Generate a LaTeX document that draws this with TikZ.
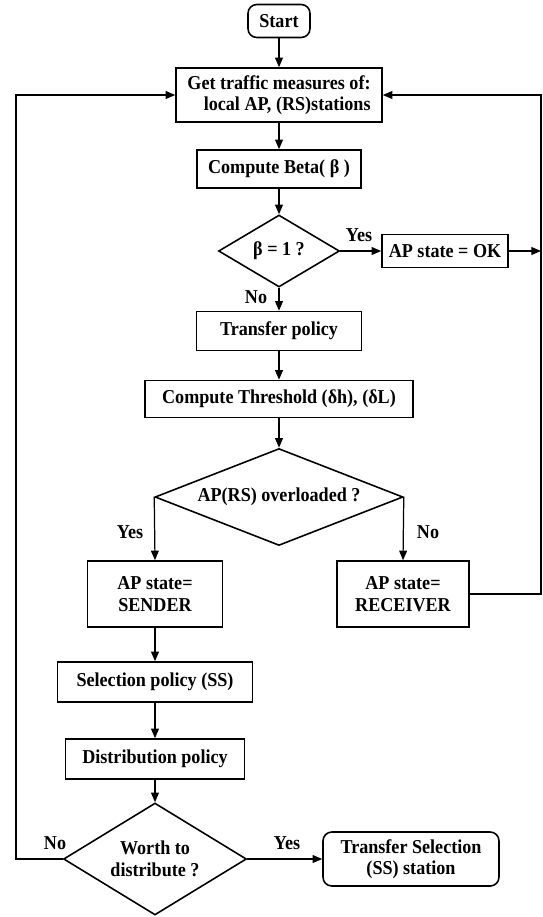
\documentclass[tikz,border=0pt]{standalone}
\usepackage{fontspec}
\setmainfont{Liberation Serif}[FakeStretch=0.92]
\usetikzlibrary{shapes.geometric, arrows.meta}

\tikzset{
  box/.style={rectangle, draw, line width=0.9pt, inner sep=0pt, align=center},
  rbox/.style={box, rounded corners=5pt},
  decision/.style={diamond, draw, line width=0.9pt, inner sep=0pt, align=center},
  flow/.style={-{Triangle[length=5.5pt,width=4.5pt]}, line width=0.7pt},
  lbl/.style={inner sep=0pt}
}

\begin{document}
\begin{tikzpicture}[x=0.02cm, y=-0.02cm, font=\bfseries\fontsize{11.2}{12.2}\selectfont]
  \useasboundingbox (0,0) rectangle (542,917);
  % main column
  \node (start) [rbox, minimum width=1.24cm, minimum height=0.66cm] at (279,21) {Start};
  \node (getm) [box, align=right, minimum width=4.12cm, minimum height=1.08cm] at (279,95) {Get traffic measures of:\\local AP, (RS)stations};
  \node (beta) [box, minimum width=3.28cm, minimum height=0.76cm] at (279,169) {Compute Beta( β )};
  \node (dbeta) [decision, aspect=1.7, minimum width=2.42cm, minimum height=1.44cm] at (279,251) {β = 1 ?};
  \node (ok) [box, minimum width=2.52cm, minimum height=0.66cm] at (445,251) {AP state = OK};
  \node (transfer) [box, minimum width=3.30cm, minimum height=0.78cm] at (279,331) {Transfer policy};
  \node (thresh) [box, minimum width=5.36cm, minimum height=0.74cm] at (279,399) {Compute Threshold (δh), (δL)};
  \node (dover) [decision, aspect=2.56, minimum width=4.96cm, minimum height=1.94cm] at (279,497) {AP(RS) overloaded ?};
  \node (sender) [box, minimum width=2.70cm, minimum height=1.32cm] at (155,594) {AP state=\\SENDER};
  \node (receiver) [box, minimum width=2.64cm, minimum height=1.32cm] at (403,594) {AP state=\\RECEIVER};
  \node (select) [box, minimum width=3.90cm, minimum height=0.80cm] at (155,682) {Selection policy (SS)};
  \node (distrib) [box, minimum width=3.58cm, minimum height=0.80cm] at (155,759) {Distribution policy};
  \node (dworth) [decision, aspect=1.63, minimum width=3.66cm, minimum height=2.24cm] at (155,859) {Worth to\\distribute ?};
  \node (trsel) [rbox, minimum width=3.52cm, minimum height=1.08cm] at (411,859) {Transfer Selection\\(SS) station};

  % loop corners and free ends
  \coordinate (okend) at (541,251);
  \coordinate (rloop) at (541,95);
  \coordinate (lloop) at (16,95);

  % branch labels
  \node (yes1) [lbl] at (359,235) {Yes};
  \node (no1) [lbl] at (256,297) {No};
  \node (yes2) [lbl] at (130,532) {Yes};
  \node (no2) [lbl] at (428,532) {No};
  \node (no3) [lbl] at (55,843) {No};
  \node (yes3) [lbl] at (287,843) {Yes};

  % connectors
  \draw[flow] (start) -- (getm);
  \draw[flow] (getm) -- (beta);
  \draw[flow] (beta) -- (dbeta);
  \draw[flow] (dbeta.east) -- (ok.west);
  \draw[flow] (ok.east) -- (okend);
  \draw[flow] (dbeta.south) -- (transfer.north);
  \draw[flow] (transfer) -- (thresh);
  \draw[flow] (thresh) -- (dover);
  \draw[flow] (dover.west) -- (sender.north);
  \draw[flow] (dover.east) -- (receiver.north);
  \draw[flow] (receiver.east) -| (rloop) -- (getm.east);
  \draw[flow] (sender) -- (select);
  \draw[flow] (select) -- (distrib);
  \draw[flow] (distrib) -- (dworth);
  \draw[flow] (dworth.east) -- (trsel.west);
  \draw[flow] (dworth.west) -| (lloop) -- (getm.west);
\end{tikzpicture}
\end{document}
